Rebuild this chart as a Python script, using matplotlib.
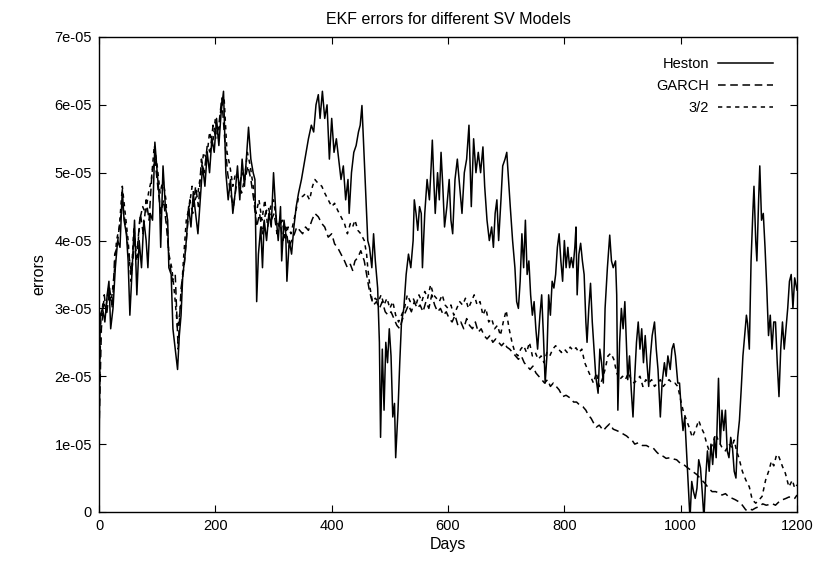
import matplotlib
matplotlib.use("Agg")
import matplotlib.pyplot as plt
import numpy as np

plt.rcParams['font.family'] = ['Liberation Sans', 'DejaVu Sans']

# values are in units of 1e-05
heston_days = [0, 2, 6, 10, 14, 17, 20, 24, 28, 32, 36, 40, 43, 47, 50, 53, 57, 61, 65, 69, 73, 77, 81, 84, 88, 92, 96, 100, 104, 106, 110, 114, 118, 120, 124, 127, 131, 135, 138, 141, 144, 147, 150,
               154, 158, 162, 166, 170, 174, 178, 182, 186, 190, 194, 198, 202, 206, 210, 214, 218, 222, 226, 230, 234, 238, 242, 246, 250, 254, 257, 261, 265, 268, 271, 274, 278, 281, 284, 288, 292, 296, 300,
               304, 308, 312, 314, 318, 321, 323, 327, 331, 335, 339, 343, 348, 352, 356, 360, 365, 369, 373, 377, 380, 384, 388, 392, 396, 400, 404, 408, 412, 416, 420, 424, 428, 430, 434, 438, 442, 446, 449,
               452, 456, 459, 462, 465, 469, 472, 475, 479, 482, 484, 487, 490, 493, 496, 499, 502, 505, 508, 510, 514, 517, 520, 524, 528, 532, 536, 540, 542, 545, 548, 551, 554, 556, 560, 564, 568, 571, 573,
               576, 578, 582, 585, 588, 591, 594, 598, 602, 605, 608, 612, 616, 620, 624, 628, 632, 636, 640, 644, 648, 652, 656, 660, 663, 667, 671, 675, 678, 681, 684, 687, 691, 694, 698, 701, 704, 707, 711,
               715, 718, 721, 724, 727, 730, 733, 736, 739, 742, 745, 748, 751, 754, 758, 761, 764, 767, 770, 773, 776, 779, 782, 785, 788, 791, 794, 797, 800, 803, 806, 809, 812, 815, 818, 820, 822, 825, 828,
               831, 834, 837, 839, 842, 845, 848, 851, 854, 858, 861, 864, 867, 870, 874, 878, 881, 884, 888, 890, 892, 895, 898, 901, 904, 907, 909, 912, 915, 918, 921, 924, 927, 930, 933, 936, 939, 942, 945,
               948, 951, 955, 958, 961, 965, 968, 972, 975, 978, 982, 985, 988, 991, 995, 998, 1001, 1004, 1007, 1010, 1013, 1016, 1019, 1022, 1025, 1028, 1031, 1034, 1037, 1040, 1043, 1046, 1049, 1052, 1055,
               1058, 1061, 1065, 1068, 1071, 1074, 1077, 1080, 1083, 1086, 1089, 1092, 1095, 1098, 1101, 1104, 1107, 1110, 1113, 1115, 1118, 1121, 1124, 1126, 1129, 1131, 1134, 1136, 1139, 1142, 1145, 1148,
               1151, 1154, 1157, 1160, 1163, 1166, 1169, 1172, 1175, 1178, 1181, 1184, 1187, 1190, 1193, 1196, 1200]
heston_vals = [0.8, 2.9, 3.0, 2.8, 3.2, 3.4, 2.7, 3.0, 3.6, 4.0, 3.9, 4.75, 4.3, 4.1, 3.7, 2.9, 3.6, 4.3, 3.2, 4.0, 3.6, 4.3, 4.0, 3.6, 4.4, 4.3, 5.45, 5.0, 4.6, 3.9, 5.1, 4.5, 4.3, 3.6, 3.5, 2.7, 2.4, 2.1, 2.6, 2.9, 3.5, 3.7, 4.0,
               4.5, 4.2, 4.7, 4.4, 4.1, 4.6, 5.1, 4.8, 5.3, 5.0, 5.5, 5.3, 5.8, 5.4, 5.9, 6.2, 5.0, 4.6, 4.9, 4.4, 4.7, 5.1, 4.6, 5.2, 4.8, 5.3, 5.67, 5.2, 5.0, 4.9, 3.1, 3.8, 4.2, 3.6, 4.3, 4.0, 4.4, 4.2, 5.0,
               4.4, 4.0, 4.5, 3.7, 4.3, 4.1, 3.4, 4.0, 3.8, 4.2, 4.5, 4.7, 4.9, 5.1, 5.3, 5.5, 5.7, 5.6, 6.0, 6.15, 5.8, 6.2, 5.8, 6.0, 5.2, 5.8, 5.3, 5.5, 5.2, 4.9, 5.1, 4.6, 4.9, 4.4, 5.0, 5.3, 5.4, 5.6, 5.7,
               5.99, 5.2, 4.6, 4.0, 3.9, 3.6, 4.1, 3.7, 3.3, 2.5, 1.1, 2.4, 1.5, 2.5, 2.2, 2.7, 2.3, 1.4, 1.6, 0.8, 1.5, 2.2, 2.8, 3.0, 3.5, 3.8, 3.6, 4.0, 4.6, 4.4, 4.15, 4.5, 4.4, 3.6, 4.4, 4.9, 4.6, 5.1, 5.48,
               4.8, 4.4, 5.0, 4.6, 5.3, 4.8, 4.2, 4.5, 4.9, 4.3, 4.1, 4.9, 5.2, 4.8, 4.4, 5.0, 5.2, 5.7, 4.5, 5.5, 5.0, 5.3, 5.0, 5.38, 4.8, 4.3, 4.0, 4.2, 3.9, 4.4, 4.6, 4.0, 4.6, 5.1, 5.2, 5.3, 4.9, 4.5, 4.0,
               3.6, 3.1, 3.0, 3.4, 4.1, 3.6, 4.3, 3.5, 3.7, 3.2, 2.9, 3.1, 2.7, 2.4, 2.9, 3.2, 2.6, 1.9, 2.3, 3.2, 2.9, 3.4, 3.3, 3.5, 3.9, 4.1, 3.7, 3.4, 4.0, 3.6, 3.9, 3.6, 3.75, 3.6, 3.9, 4.2, 3.2, 3.8, 3.96,
               3.7, 3.5, 2.8, 2.5, 3.0, 3.37, 2.8, 2.4, 2.0, 1.75, 2.4, 2.2, 1.9, 3.0, 3.6, 4.08, 3.7, 3.6, 3.7, 3.2, 1.5, 2.5, 3.0, 2.7, 3.1, 2.4, 1.95, 2.3, 1.8, 1.4, 2.0, 2.5, 2.8, 2.4, 2.7, 2.2, 2.6, 2.2, 1.85,
               2.3, 2.6, 2.8, 2.4, 2.1, 1.4, 1.9, 2.2, 2.0, 2.3, 2.1, 2.4, 2.48, 2.3, 1.9, 1.9, 1.5, 1.2, 1.4, 0.9, 0.4, -0.1, 0.45, 0.3, 0.2, 0.35, 0.77, 0.65, 0.3, -0.1, 0.5, 0.9, 0.6, 1.0, 0.7,
               1.1, 0.8, 1.97, 1.0, 1.5, 1.2, 1.5, 0.9, 0.8, 1.1, 0.95, 0.6, 0.5, 1.1, 1.35, 1.8, 2.3, 2.6, 2.9, 2.78, 2.4, 3.7, 4.4, 4.8, 4.0, 3.7, 4.6, 5.1, 4.3, 4.4, 3.9, 3.3,
               2.6, 2.9, 2.4, 2.8, 2.8, 2.2, 1.7, 2.4, 2.8, 2.4, 2.7, 3.0, 3.4, 3.5, 3.0, 3.45, 3.27]

garch_days = [0, 4, 9, 13, 18, 23, 27, 31, 36, 41, 46, 51, 56, 61, 66, 71, 76, 81, 86, 91, 96, 101, 106, 111, 116, 121, 126, 131, 136, 141, 146, 151, 156, 161, 166, 171, 176, 181, 186, 191, 196, 201, 206,
              211, 216, 221, 226, 231, 236, 241, 246, 251, 256, 261, 266, 271, 276, 281, 286, 291, 296, 301, 306, 311, 316, 321, 326, 331, 336, 340, 345, 350, 355, 360, 366, 371, 377, 383, 388, 394, 400,
              405, 410, 416, 422, 427, 432, 436, 440, 445, 450, 456, 460, 464, 468, 472, 477, 482, 487, 492, 497, 502, 507, 512, 517, 522, 527, 532, 537, 542, 547, 552, 557, 562, 567, 572, 577, 582, 587,
              592, 597, 602, 607, 612, 617, 622, 627, 632, 637, 642, 647, 652, 657, 662, 667, 672, 677, 682, 687, 692, 697, 701, 706, 711, 716, 721, 726, 731, 736, 741, 746, 751, 756, 761, 766, 771, 776,
              781, 786, 791, 797, 803, 810, 816, 821, 827, 832, 837, 841, 846, 851, 855, 860, 867, 872, 878, 884, 890, 895, 901, 907, 912, 917, 921, 927, 934, 941, 947, 953, 959, 964, 970, 975, 982, 988,
              993, 999, 1005, 1012, 1020, 1028, 1035, 1042, 1048, 1054, 1060, 1066, 1071, 1077, 1083, 1089, 1094, 1100, 1106, 1112, 1118, 1123, 1129, 1135, 1141, 1147, 1153, 1158, 1163, 1169, 1175, 1181,
              1186, 1192, 1196, 1200]
garch_vals = [1.2, 2.7, 3.2, 2.9, 3.3, 3.0, 3.8, 3.9, 4.3, 4.5, 4.2, 3.8, 3.5, 4.0, 3.9, 4.4, 4.1, 4.6, 4.3, 5.0, 5.2, 4.8, 4.4, 4.6, 4.2, 3.7, 3.4, 3.5, 2.4, 3.3, 3.6, 4.1, 4.6, 4.4, 4.8, 4.5, 5.2, 5.0, 5.4, 5.3, 5.7, 5.5, 5.7,
              6.1, 5.5, 5.0, 4.7, 4.5, 4.8, 4.8, 5.0, 4.9, 5.1, 4.9, 4.6, 4.2, 4.4, 4.1, 4.4, 4.5, 4.3, 4.4, 4.1, 4.3, 4.0, 4.2, 3.9, 4.0, 4.1, 4.2, 4.15, 4.1, 4.2, 4.15, 4.3, 4.4, 4.35, 4.25, 4.2, 4.05, 4.1,
              3.95, 3.9, 3.8, 3.7, 3.6, 3.65, 3.56, 3.7, 3.75, 3.85, 3.7, 3.5, 3.3, 3.15, 3.05, 3.1, 3.0, 3.1, 2.95, 2.9, 2.95, 2.85, 2.75, 2.7, 2.85, 2.95, 3.05, 2.95, 3.1, 3.0, 3.05, 2.95, 3.1, 3.0, 3.2, 3.05, 2.95, 3.0,
              2.9, 2.95, 2.85, 2.8, 2.9, 2.75, 2.8, 2.7, 2.85, 2.75, 2.7, 2.8, 2.65, 2.7, 2.6, 2.55, 2.6, 2.5, 2.55, 2.5, 2.45, 2.5, 2.43, 2.4, 2.35, 2.3, 2.25, 2.3, 2.2, 2.15, 2.1, 2.15, 2.05, 2.0, 1.95, 1.9, 1.95, 1.85,
              1.9, 1.85, 1.8, 1.7, 1.72, 1.68, 1.62, 1.62, 1.57, 1.55, 1.5, 1.43, 1.38, 1.3, 1.25, 1.28, 1.2, 1.25, 1.3, 1.22, 1.2, 1.18, 1.15, 1.12, 1.08, 1.05, 1.0, 1.02, 0.98, 0.98, 0.95, 0.94, 0.88, 0.84, 0.82, 0.79, 0.8, 0.78,
              0.77, 0.72, 0.7, 0.65, 0.6, 0.55, 0.48, 0.42, 0.35, 0.3, 0.3, 0.28, 0.25, 0.27, 0.22, 0.2, 0.18, 0.15, 0.1, 0.03, 0.05, 0.03, 0.06, 0.08, 0.12, 0.1, 0.11, 0.12, 0.1, 0.15, 0.18, 0.2,
              0.22, 0.22, 0.2, 0.25]

three_half_days = [0, 3, 7, 12, 16, 21, 26, 30, 35, 40, 45, 50, 55, 60, 65, 70, 75, 80, 85, 90, 95, 100, 105, 110, 115, 120, 125, 130, 135, 140, 145, 150, 155, 160, 165, 170, 175, 180, 185, 190, 195, 200,
                   205, 210, 215, 220, 225, 230, 235, 240, 245, 250, 255, 260, 265, 270, 275, 280, 285, 290, 295, 300, 305, 310, 315, 320, 325, 330, 335, 340, 343, 350, 356, 362, 367, 371, 376, 383, 388, 394,
                   400, 405, 410, 416, 422, 427, 432, 436, 440, 445, 450, 456, 460, 462, 466, 470, 475, 480, 485, 490, 495, 500, 505, 510, 515, 520, 525, 530, 535, 540, 545, 550, 555, 560, 565, 570, 575, 580,
                   585, 590, 595, 600, 605, 610, 615, 620, 625, 630, 635, 640, 645, 650, 655, 660, 665, 670, 675, 680, 685, 690, 695, 700, 705, 710, 715, 720, 725, 730, 735, 740, 745, 750, 755, 760, 765, 770,
                   775, 780, 785, 790, 795, 800, 805, 810, 815, 820, 825, 830, 835, 840, 845, 850, 855, 860, 865, 870, 875, 880, 885, 890, 895, 900, 905, 910, 915, 920, 925, 930, 935, 940, 945, 950, 955, 960,
                   965, 970, 975, 980, 985, 990, 995, 1000, 1004, 1008, 1014, 1020, 1025, 1031, 1035, 1040, 1045, 1049, 1055, 1060, 1065, 1071, 1077, 1083, 1088, 1092, 1096, 1100, 1106, 1112, 1118, 1123, 1129,
                   1135, 1140, 1146, 1152, 1156, 1160, 1165, 1169, 1175, 1180, 1186, 1192, 1196, 1200]
three_half_vals = [1.5, 2.8, 3.1, 3.0, 3.3, 3.1, 3.5, 4.0, 4.2, 4.8, 4.4, 4.0, 3.4, 4.2, 3.7, 4.3, 4.5, 4.4, 4.7, 4.9, 5.4, 5.1, 4.7, 4.9, 4.6, 3.8, 3.6, 3.2, 2.7, 3.0, 3.7, 4.3, 4.5, 4.8, 4.6, 4.7, 5.0, 5.3, 5.2, 5.6, 5.4, 5.8,
                   5.5, 6.0, 6.1, 5.3, 5.1, 4.8, 5.0, 4.9, 4.7, 4.9, 5.3, 5.1, 4.8, 4.4, 4.6, 4.3, 4.6, 4.2, 4.5, 4.6, 4.3, 4.2, 4.3, 4.0, 4.2, 4.1, 4.3, 4.5, 4.64, 4.65, 4.7, 4.6, 4.8, 4.9, 4.85, 4.8, 4.7, 4.6,
                   4.5, 4.55, 4.45, 4.35, 4.25, 4.1, 4.25, 4.2, 4.3, 4.15, 4.1, 4.0, 3.8, 3.6, 3.3, 3.1, 3.15, 3.1, 3.2, 3.05, 3.15, 3.0, 3.1, 2.9, 2.8, 2.9, 3.0, 3.2, 3.1, 3.15, 3.05, 3.2, 3.1, 3.25, 3.15, 3.35, 3.2, 3.15,
                   3.1, 3.2, 3.05, 3.0, 3.05, 2.9, 3.0, 3.1, 3.05, 3.15, 3.0, 3.1, 3.2, 3.05, 3.1, 2.9, 3.0, 2.8, 2.85, 2.7, 2.75, 2.6, 2.8, 2.97, 2.7, 2.5, 2.35, 2.3, 2.4, 2.45, 2.35, 2.5, 2.3, 2.35, 2.25, 2.3, 2.2, 2.35,
                   2.3, 2.4, 2.45, 2.4, 2.35, 2.4, 2.35, 2.43, 2.38, 2.42, 2.35, 2.4, 2.2, 2.1, 2.0, 1.9, 2.05, 1.85, 1.95, 2.1, 2.3, 2.34, 2.25, 2.05, 1.95, 2.0, 1.95, 2.05, 1.95, 1.9, 1.95, 2.0, 1.85, 1.95, 1.9, 1.95, 1.85, 1.9,
                   1.95, 1.85, 1.9, 1.95, 1.9, 1.9, 1.85, 1.65, 1.5, 1.4, 1.26, 1.1, 1.2, 1.35, 1.25, 1.16, 1.0, 0.9, 1.0, 1.15, 1.05, 0.95, 0.9, 1.0, 0.95, 1.06, 0.9, 0.8, 0.6, 0.47, 0.37, 0.18, 0.13,
                   0.18, 0.23, 0.47, 0.62, 0.75, 0.68, 0.85, 0.81, 0.67, 0.57, 0.37, 0.47, 0.35, 0.4]

scale = 1e-05
x_ticks = [0, 200, 400, 600, 800, 1000, 1200]
y_ticks = [0, 1, 2, 3, 4, 5, 6, 7]
y_tick_labels = ['0', '1e-05', '2e-05', '3e-05', '4e-05', '5e-05', '6e-05', '7e-05']

fig = plt.figure(figsize=(8.33, 5.62), dpi=100)
ax = fig.add_axes([0.1189, 0.0890, 0.8379, 0.8452])

lw = 1.1
ax.plot(heston_days, np.array(heston_vals) * scale, color='black', lw=lw, label='Heston')
l2, = ax.plot(garch_days, np.array(garch_vals) * scale, color='black', lw=lw, label='GARCH')
l2.set_dashes([5, 3])
l3, = ax.plot(three_half_days, np.array(three_half_vals) * scale, color='black', lw=lw, label='3/2')
l3.set_dashes([2.8, 2.8])

ax.set_xlim(0, 1200)
ax.set_ylim(0, 7e-05)
ax.set_xticks(x_ticks)
ax.set_yticks([v * scale for v in y_ticks])
ax.set_yticklabels(y_tick_labels)
ax.tick_params(direction='in', top=True, right=True, length=5, width=0.8, labelsize=10.5, pad=5)
for s in ax.spines.values():
    s.set_linewidth(1.0)

ax.set_title('EKF errors for different SV Models', fontsize=11.5, pad=9)
ax.set_xlabel('Days', fontsize=11.5, labelpad=3)
ax.set_ylabel('errors', fontsize=11.5, labelpad=6)

leg = ax.legend(loc='upper right', bbox_to_anchor=(0.985, 0.985), frameon=False, markerfirst=False,
                handlelength=3.8, fontsize=10.5, labelspacing=0.55, handletextpad=0.6)
for t in leg.get_texts():
    t.set_ha('right')

fig.savefig('out.png', dpi=100)
